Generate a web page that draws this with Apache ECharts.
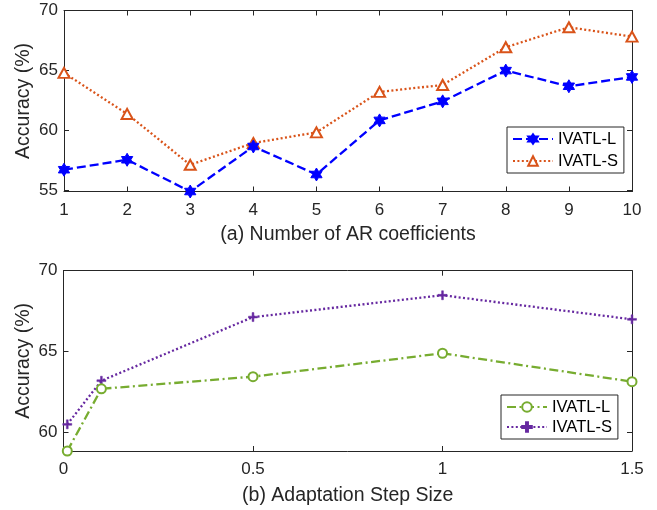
<!DOCTYPE html>
<html><head><meta charset="utf-8">
<script src="https://cdn.jsdelivr.net/npm/echarts@6/dist/echarts.min.js"></script>
<style>html,body{margin:0;padding:0;background:#fff}#c{width:657px;height:510px}</style>
</head><body><div id="c"></div>
<script>
// ---- data ----
const arCoefficients = [1, 2, 3, 4, 5, 6, 7, 8, 9, 10];
const arIvatlL = [56.70, 57.53, 54.88, 58.64, 56.30, 60.82, 62.41, 64.98, 63.67, 64.45];
const arIvatlS = [64.79, 61.36, 57.11, 58.93, 59.82, 63.20, 63.78, 66.93, 68.60, 67.82];
const stepSizes = [0.01, 0.1, 0.5, 1, 1.5];
const stepIvatlL = [58.84, 62.69, 63.44, 64.89, 63.13];
const stepIvatlS = [60.49, 63.19, 67.13, 68.48, 66.99];
const yTicksA = [55, 60, 65, 70];
const yTicksB = [60, 65, 70];
const seriesNames = ['IVATL-L', 'IVATL-S'];
const xTitleA = '(a) Number of AR coefficients';
const xTitleB = '(b) Adaptation Step Size';
const yTitle = 'Accuracy (%)';

const axisColor = '#262626';
const font = "'Liberation Sans', Arial, Helvetica, sans-serif";
const hexagram = 'path://M10,0 L12.89,5 L18.66,5 L15.77,10 L18.66,15 L12.89,15 L10,20 L7.11,15 L1.34,15 L4.23,10 L1.34,5 L7.11,5 Z';
const plus = 'path://M4,0 H6 V4 H10 V6 H6 V10 H4 V6 H0 V4 H4 Z';

const yMinA = Math.min(...arIvatlL, ...arIvatlS);
const yMinB = Math.min(...stepIvatlL, ...stepIvatlS);

function pairs(xs, ys) { return xs.map((x, i) => [x, ys[i]]); }

function xAx(grid, min, max, interval, name, nameGap, primary) {
  return {
    gridIndex: grid, type: 'value', min, max, interval,
    position: primary ? 'bottom' : 'top',
    name: primary ? name : '', nameLocation: 'middle', nameGap, nameMoveOverlap: false,
    nameTextStyle: { fontSize: 19.5, color: axisColor, fontFamily: font },
    axisLine: { show: true, onZero: false, lineStyle: { color: axisColor, width: 1 } },
    axisTick: { show: true, inside: true, length: 5, lineStyle: { color: axisColor } },
    axisLabel: { show: primary, margin: 10, fontSize: 17, color: axisColor, fontFamily: font },
    splitLine: { show: false }
  };
}
function yAx(grid, min, max, ticks, primary) {
  return {
    gridIndex: grid, type: 'value', min, max,
    position: primary ? 'left' : 'right',
    name: primary ? yTitle : '', nameLocation: 'middle', nameGap: 30, nameMoveOverlap: false,
    nameTextStyle: { fontSize: 19.5, color: axisColor, fontFamily: font },
    axisLine: { show: true, onZero: false, lineStyle: { color: axisColor, width: 1 } },
    axisTick: { show: true, inside: true, length: 5, customValues: ticks, lineStyle: { color: axisColor } },
    axisLabel: { show: primary, margin: 6, fontSize: 17, color: axisColor, fontFamily: font, customValues: ticks },
    splitLine: { show: false }
  };
}
function legend(prefix, left, top, gap) {
  return {
    data: seriesNames.map(n => prefix + '|' + n),
    formatter: n => n.split('|')[1],
    orient: 'vertical', left, top,
    itemWidth: 40, itemHeight: 12, itemGap: gap,
    padding: [3, 6, 3, 5],
    borderColor: axisColor, borderWidth: 1, borderRadius: 0, backgroundColor: '#fff',
    textStyle: { fontSize: 16.5, color: '#000', fontFamily: font, lineHeight: 18 }
  };
}

const option = {
  animation: false,
  backgroundColor: '#fff',
  grid: [
    { left: 64, top: 10.5, width: 568, height: 181 },
    { left: 63.5, top: 270.7, width: 568.5, height: 180.3 }
  ],
  xAxis: [
    xAx(0, 1, 10, 1, xTitleA, 33, true),
    xAx(0, 1, 10, 1, '', 0, false),
    xAx(1, 0, 1.5, 0.5, xTitleB, 35, true),
    xAx(1, 0, 1.5, 0.5, '', 0, false)
  ],
  yAxis: [
    yAx(0, yMinA, 70, yTicksA, true),
    yAx(0, yMinA, 70, yTicksA, false),
    yAx(1, yMinB, 70, yTicksB, true),
    yAx(1, yMinB, 70, yTicksB, false)
  ],
  legend: [legend('a', 507, 127, 4), legend('b', 501, 395, 2)],
  series: [
    {
      name: 'a|IVATL-S', type: 'line', xAxisIndex: 0, yAxisIndex: 0,
      data: pairs(arCoefficients, arIvatlS),
      symbol: 'triangle', symbolSize: [11, 10],
      lineStyle: { color: '#D95319', width: 2.3, type: [2, 2.4] },
      itemStyle: { color: '#fff', borderColor: '#D95319', borderWidth: 2 },
      z: 2
    },
    {
      name: 'a|IVATL-L', type: 'line', xAxisIndex: 0, yAxisIndex: 0,
      data: pairs(arCoefficients, arIvatlL),
      symbol: hexagram, symbolSize: 13, symbolKeepAspect: true,
      lineStyle: { color: '#0000FF', width: 2.3, type: [9, 4] },
      itemStyle: { color: '#0000FF', borderColor: '#0000FF', borderWidth: 1 },
      z: 3
    },
    {
      name: 'b|IVATL-L', type: 'line', xAxisIndex: 2, yAxisIndex: 2,
      data: pairs(stepSizes, stepIvatlL),
      symbol: 'circle', symbolSize: 9,
      lineStyle: { color: '#77AC30', width: 2.3, type: [9, 3.5, 2, 3.5] },
      itemStyle: { color: '#fff', borderColor: '#77AC30', borderWidth: 2 },
      z: 3
    },
    {
      name: 'b|IVATL-S', type: 'line', xAxisIndex: 2, yAxisIndex: 2,
      data: pairs(stepSizes, stepIvatlS),
      symbol: plus, symbolSize: 9, symbolKeepAspect: true,
      lineStyle: { color: '#6628A0', width: 2.3, type: [2, 2.4] },
      itemStyle: { color: '#6628A0', borderColor: '#6628A0', borderWidth: 0.5 },
      z: 2
    }
  ]
};
echarts.init(document.getElementById('c'), null, { renderer: 'canvas' }).setOption(option);
</script>
</body></html>
